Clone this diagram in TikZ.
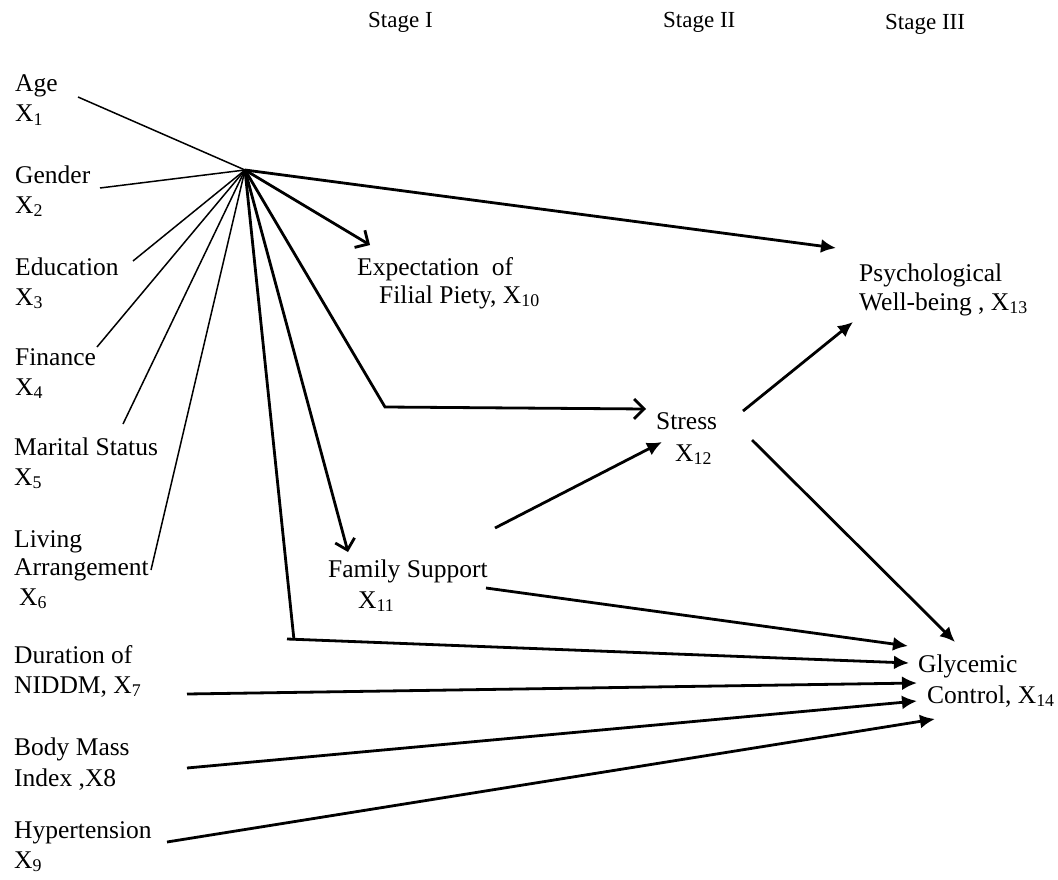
\documentclass[tikz,border=0pt]{standalone}
\usepackage{fontspec}
\setmainfont{Liberation Serif}
\usetikzlibrary{arrows.meta}
\begin{document}
\begin{tikzpicture}[x=1pt,y=-1pt,
  lbl/.style={anchor=base west,inner sep=0pt,font=\fontsize{25.5}{30}\selectfont},
  stg/.style={anchor=base west,inner sep=0pt,font=\fontsize{23}{28}\selectfont},
  demo/.style={line width=1.5pt},
  heavy/.style={line width=2.8pt},
  fa/.style={heavy,-{Latex[length=15pt,width=14pt]}},
  ba/.style={heavy,-{Straight Barb[length=10pt,width=20pt]}}]
\useasboundingbox[fill=white] (0,0) rectangle (1058,880);

% stage headings
\node[stg] (stage1) at (368,28) {Stage I};
\node[stg] (stage2) at (663,28) {Stage II};
\node[stg] (stage3) at (885,30) {Stage III};

% left column
\node[lbl] (age) at (15,92) {Age};
\node[lbl] (ageX) at (15,122) {X\textsubscript{1}};
\node[lbl] (gen) at (15,183) {Gender};
\node[lbl] (genX) at (15,213) {X\textsubscript{2}};
\node[lbl] (edu) at (15,275) {Education};
\node[lbl] (eduX) at (15,305) {X\textsubscript{3}};
\node[lbl] (fin) at (15,365) {Finance};
\node[lbl] (finX) at (15,395) {X\textsubscript{4}};
\node[lbl] (mar) at (14,455) {Marital Status};
\node[lbl] (marX) at (14,485) {X\textsubscript{5}};
\node[lbl] (liv) at (14,547) {Living};
\node[lbl] (liv2) at (14,575) {Arrangement};
\node[lbl] (livX) at (19,605) {X\textsubscript{6}};
\node[lbl] (dur) at (14,663) {Duration of};
\node[lbl] (dur2) at (14,693) {NIDDM, X\textsubscript{7}};
\node[lbl] (bmi) at (14,755) {Body Mass};
\node[lbl] (bmi2) at (14,786) {Index ,X8};
\node[lbl] (hyp) at (14,838) {Hypertension};
\node[lbl] (hypX) at (14,868) {X\textsubscript{9}};

% mediators and outcomes
\node[lbl] (exp) at (357,275) {Expectation\ \ of};
\node[lbl] (exp2) at (379,303) {Filial Piety, X\textsubscript{10}};
\node[lbl] (psy) at (859,281) {Psychological};
\node[lbl] (psy2) at (859,310) {Well-being , X\textsubscript{13}};
\node[lbl] (str) at (656,429) {Stress};
\node[lbl] (strX) at (675,461) {X\textsubscript{12}};
\node[lbl] (fam) at (328,577) {Family Support};
\node[lbl] (famX) at (358,608) {X\textsubscript{11}};
\node[lbl] (gly) at (918,672) {Glycemic};
\node[lbl] (gly2) at (927,703) {Control, X\textsubscript{14}};

% connector end points
\coordinate (hub) at (245,170);
\coordinate (ageE) at (78,97);
\coordinate (genE) at (100,188);
\coordinate (eduE) at (133,261);
\coordinate (finE) at (97,347);
\coordinate (marE) at (123,424);
\coordinate (livE) at (151,570);
\coordinate (psyT) at (836,248);
\coordinate (expT) at (370,245);
\coordinate (bend) at (385,407);
\coordinate (strT) at (646,409);
\coordinate (famT) at (348,552);
\coordinate (tV) at (294,640);
\coordinate (tL) at (287,639);
\coordinate (glyA) at (909,663);
\coordinate (famS) at (486,588);
\coordinate (glyB) at (908,646);
\coordinate (durS) at (187,694);
\coordinate (glyC) at (917,683);
\coordinate (bmiS) at (187,768);
\coordinate (glyD) at (917,701);
\coordinate (hypS) at (167,842);
\coordinate (glyE) at (935,719);
\coordinate (famS2) at (495,528);
\coordinate (strT2) at (662,442);
\coordinate (strS1) at (743,411);
\coordinate (psyT2) at (853,322);
\coordinate (strS2) at (752,440);
\coordinate (glyF) at (955,642);

% demographic lines into the hub
\draw[demo] (ageE) -- (hub);
\draw[demo] (genE) -- (hub);
\draw[demo] (eduE) -- (hub);
\draw[demo] (finE) -- (hub);
\draw[demo] (marE) -- (hub);
\draw[demo] (livE) -- (hub);

% stage I paths from the hub
\draw[fa] (hub) -- (psyT);
\draw[ba] (hub) -- (expT);
\draw[ba,line join=miter] (hub) -- (bend) -- (strT);
\draw[ba] (hub) -- (famT);
\draw[heavy] (hub) -- (tV);
\draw[fa] (tL) -- (glyA);

% other paths
\draw[fa] (famS) -- (glyB);
\draw[fa] (durS) -- (glyC);
\draw[fa] (bmiS) -- (glyD);
\draw[fa] (hypS) -- (glyE);
\draw[fa] (famS2) -- (strT2);
\draw[fa] (strS1) -- (psyT2);
\draw[fa] (strS2) -- (glyF);
\end{tikzpicture}
\end{document}
